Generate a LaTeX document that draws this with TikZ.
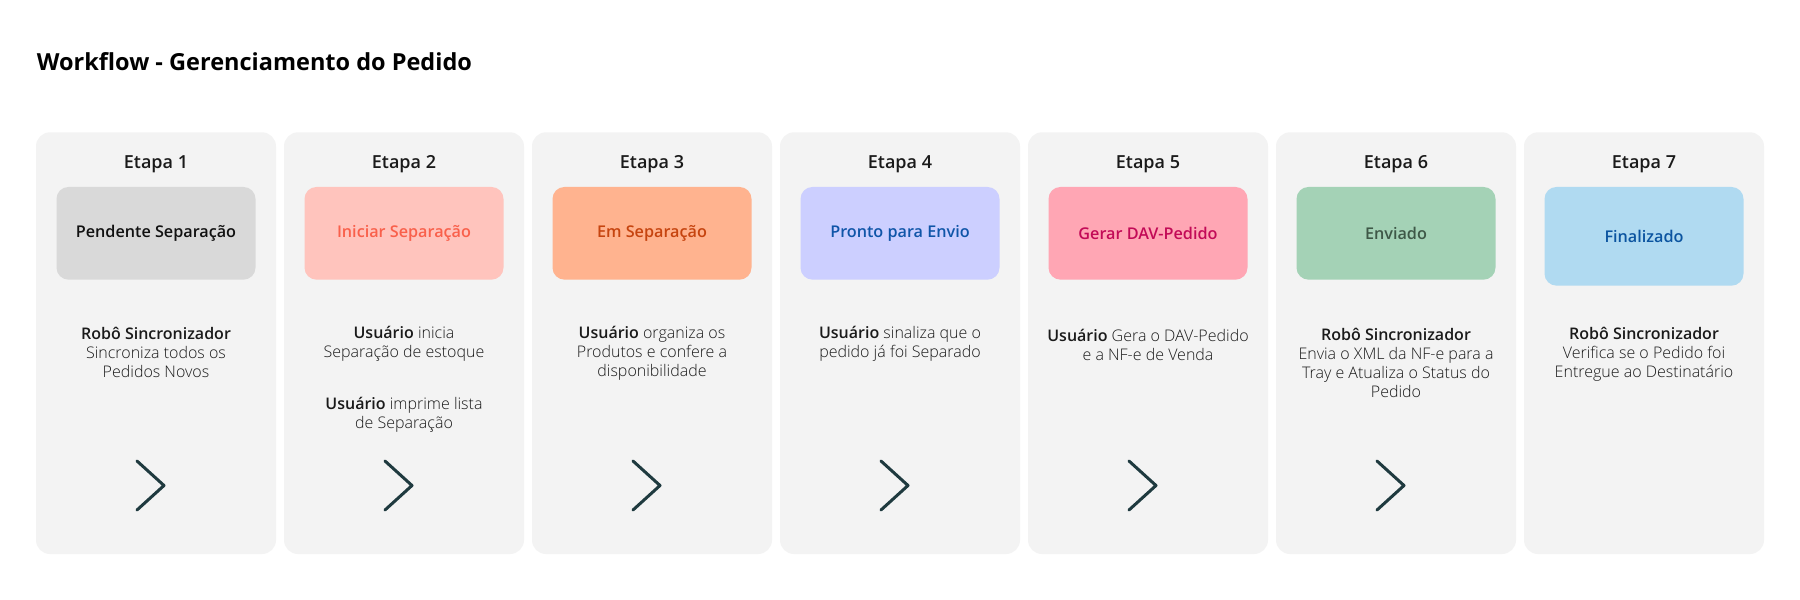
\documentclass[tikz,border=0pt]{standalone}
\usepackage{fontspec}
\setmainfont{Open Sans}
\newfontfamily\lightfont{Open Sans Light}
\newfontfamily\semifont{Open Sans Semibold}
\newcommand{\sbold}[1]{{\semifont #1}}
\definecolor{cardbg}{HTML}{F3F3F3}
\definecolor{chev}{HTML}{1F3A3F}
\definecolor{ink}{HTML}{1A1A1A}
\definecolor{fA}{HTML}{D9D9D9}\definecolor{tA}{HTML}{111111}
\definecolor{fB}{HTML}{FFC4BD}\definecolor{tB}{HTML}{F9604B}
\definecolor{fC}{HTML}{FFB38F}\definecolor{tC}{HTML}{C6440F}
\definecolor{fD}{HTML}{CCCFFF}\definecolor{tD}{HTML}{0F55A8}
\definecolor{fE}{HTML}{FFA6B4}\definecolor{tE}{HTML}{C20A57}
\definecolor{fF}{HTML}{A4D2B6}\definecolor{tF}{HTML}{3E5847}
\definecolor{fG}{HTML}{B0DAF1}\definecolor{tG}{HTML}{0B54A0}
\begin{document}
\begin{tikzpicture}[x=1pt,y=-1pt,
  card/.style={fill=cardbg, rounded corners=14pt, minimum width=240pt, minimum height=421.7pt, inner sep=0pt, draw=none},
  status/.style={rounded corners=12pt, minimum width=199pt, minimum height=92.7pt, inner sep=0pt, font=\semifont\fontsize{16.2}{19.2}\selectfont},
  etapa/.style={anchor=base, inner sep=0pt, font=\semifont\fontsize{18}{21.6}\selectfont, text=ink},
  body/.style={anchor=base, inner sep=0pt, align=center, font=\lightfont\fontsize{16}{19.2}\selectfont, text=ink},
  chevron/.style={draw=chev, line width=3pt, line cap=round, line join=round}]
\useasboundingbox[fill=white] (0,0) rectangle (1800,600);
\node[anchor=base west, inner sep=0pt, font=\bfseries\fontsize{23.5}{28}\selectfont, text=black] (title) at (36.7,70) {Workflow - Gerenciamento do Pedido};
% cards
\foreach \i/\cx in {1/156,2/404,3/652,4/900,5/1148,6/1396,7/1644}{
  \node[card] (card\i) at (\cx,343.15) {};
  \node[etapa] (etapa\i) at (\cx,168.3) {Etapa \i};
}
\foreach \i/\cx in {1/156,2/404,3/652,4/900,5/1148,6/1396}{
  \coordinate (ca\i) at (\cx-19,461);
  \coordinate (cb\i) at (\cx+8,485.5);
  \coordinate (cc\i) at (\cx-19,510);
  \draw[chevron] (ca\i) -- (cb\i) -- (cc\i);
}
% status boxes
\node[status, fill=fA, text=tA] (s1) at (156,233.3) {Pendente Separação};
\node[status, fill=fB, text=tB] (s2) at (404,233.3) {Iniciar Separação};
\node[status, fill=fC, text=tC] (s3) at (652,233.3) {Em Separação};
\node[status, fill=fD, text=tD] (s4) at (900,233.3) {Pronto para Envio};
\node[status, fill=fE, text=tE] (s5) at (1148,233.3) {Gerar DAV-Pedido};
\node[status, fill=fF, text=tF] (s6) at (1396,233.3) {Enviado};
\node[status, fill=fG, text=tG, minimum height=98.7pt] (s7) at (1644,236.3) {Finalizado};
% descriptions (anchor base = baseline of the last line)
\node[body] (d1) at (156,377.4) {\sbold{Robô Sincronizador}\\Sincroniza todos os\\Pedidos Novos};
\node[body] (d2a) at (404,357.5) {\sbold{Usuário} inicia\\Separação de estoque};
\node[body] (d2b) at (404,428.7) {\sbold{Usuário} imprime lista\\de Separação};
\node[body] (d3) at (652,376.7) {\sbold{Usuário} organiza os\\Produtos e confere a\\disponibilidade};
\node[body] (d4) at (900,357.5) {\sbold{Usuário} sinaliza que o\\pedido já foi Separado};
\node[body] (d5) at (1148,360.9) {\sbold{Usuário} Gera o DAV-Pedido\\e a NF-e de Venda};
\node[body] (d6) at (1396,397.6) {\sbold{Robô Sincronizador}\\Envia o XML da NF-e para a\\Tray e Atualiza o Status do\\Pedido};
\node[body] (d7) at (1644,377.4) {\sbold{Robô Sincronizador}\\Verifica se o Pedido foi\\Entregue ao Destinatário};
\end{tikzpicture}
\end{document}
